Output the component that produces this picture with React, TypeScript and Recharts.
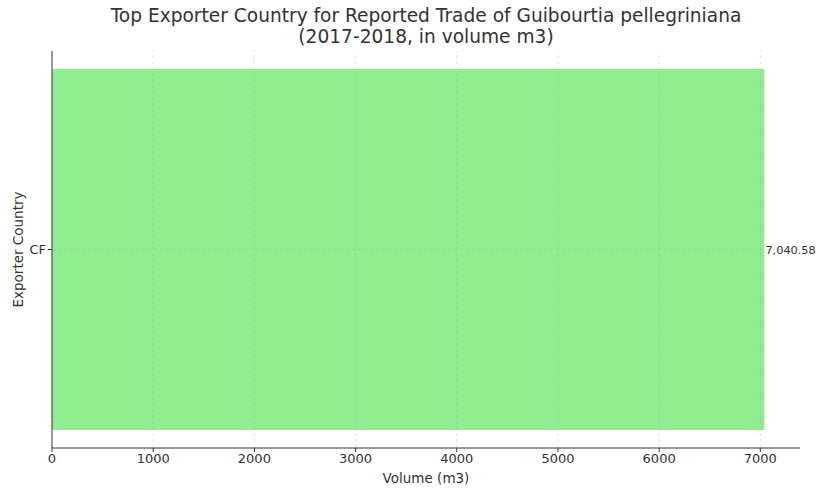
import {
  BarChart,
  Bar,
  XAxis,
  YAxis,
  ReferenceLine,
  LabelList,
  Label,
} from "recharts";

const countries = ["CF"];
const volumes = [7040.58];
const xTicks = [0, 1000, 2000, 3000, 4000, 5000, 6000, 7000];

const data = countries.map((c, i) => ({ country: c, volume: volumes[i] }));

const FONT = "'DejaVu Sans', sans-serif";
const TEXT = "#333333";
const X_DOMAIN: [number, number] = [0, 7392];

const gridLine = {
  stroke: "#a0a0a0",
  strokeOpacity: 0.4,
  strokeDasharray: "3 3",
  strokeWidth: 0.8,
};

export default function App() {
  return (
    <div
      style={{
        position: "absolute",
        left: 0,
        top: 0,
        width: 821,
        height: 489,
        background: "#fff",
        fontFamily: FONT,
      }}
    >
      <div
        style={{
          position: "absolute",
          left: 52,
          width: 748,
          top: 5,
          textAlign: "center",
          fontSize: 18.6,
          lineHeight: "21px",
          color: TEXT,
        }}
      >
        Top Exporter Country for Reported Trade of Guibourtia pellegriniana
        <br />
        (2017-2018, in volume m3)
      </div>
      <div style={{ position: "absolute", left: 0, top: 0 }}>
        <BarChart
          width={821}
          height={489}
          data={data}
          layout="vertical"
          margin={{ top: 51, right: 21, bottom: 0, left: 0 }}
        >
          <XAxis
            type="number"
            domain={X_DOMAIN}
            ticks={xTicks}
            allowDataOverflow
            height={41}
            stroke={TEXT}
            tick={{ fill: TEXT, fontSize: 13, fontFamily: FONT }}
            tickSize={4}
          >
            <Label
              value="Volume (m3)"
              position="insideBottom"
              offset={6}
              fill={TEXT}
              fontSize={13.5}
              fontFamily={FONT}
            />
          </XAxis>
          <YAxis
            type="category"
            dataKey="country"
            width={52}
            stroke={TEXT}
            tick={{ fill: TEXT, fontSize: 13, fontFamily: FONT }}
            tickSize={4}
          >
            <Label
              value="Exporter Country"
              angle={-90}
              position="insideLeft"
              offset={18}
              style={{ textAnchor: "middle" }}
              fill={TEXT}
              fontSize={13.5}
              fontFamily={FONT}
            />
          </YAxis>
          <Bar
            dataKey="volume"
            fill="#90EE90"
            barSize={361}
            isAnimationActive={false}
          >
            <LabelList
              dataKey="volume"
              position="right"
              offset={1}
              fill={TEXT}
              fontSize={11.3}
              fontFamily={FONT}
              formatter={(v: any) =>
                Number(v).toLocaleString("en-US", {
                  minimumFractionDigits: 2,
                  maximumFractionDigits: 2,
                })
              }
            />
          </Bar>
        </BarChart>
      </div>
      {/* faint grid drawn over the bar, as in the reference */}
      <div style={{ position: "absolute", left: 0, top: 0, pointerEvents: "none" }}>
        <BarChart
          width={821}
          height={489}
          data={data}
          layout="vertical"
          margin={{ top: 51, right: 21, bottom: 41, left: 52 }}
        >
          <XAxis type="number" domain={X_DOMAIN} ticks={xTicks} allowDataOverflow hide />
          <YAxis type="category" dataKey="country" hide />
          <Bar dataKey="volume" fill="none" isAnimationActive={false} />
          {xTicks.slice(1).map((t) => (
            <ReferenceLine key={t} x={t} {...gridLine} />
          ))}
          <ReferenceLine y="CF" {...gridLine} />
        </BarChart>
      </div>
    </div>
  );
}
